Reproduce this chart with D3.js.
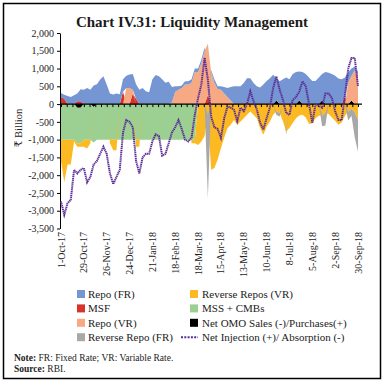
<!DOCTYPE html>
<html>
<head>
<meta charset="utf-8">
<script src="https://cdn.jsdelivr.net/npm/d3@7"></script>
<style>
  html, body { margin: 0; padding: 0; background: #fff; }
  svg text { font-family: "Liberation Serif", "DejaVu Serif", serif; fill: #222; }
</style>
</head>
<body>
<div id="chart"></div>
<script>
// one sample every 4 days, 1-Oct-17 .. 30-Sep-18
const startDate = new Date(2017, 9, 1);
const stepDays = 4;

const repoFR = [110,110,230,200,250,220,340,400,450,400,
  520,560,690,780,550,300,270,300,280,350,
  350,380,450,410,400,450,360,330,700,820,
  780,700,600,630,430,150,100,70,90,90,
  100,100,100,100,100,0,60,100,80,100,
  180,250,380,500,500,500,590,660,730,590,
  500,470,550,650,730,825,630,640,700,750,
  700,850,900,820,900,850,750,650,650,750,
  750,900,880,850,800,720,700,550,300,200,
  100,50];
const msf = [200,150,0,0,0,80,80,0,0,0,
  0,0,0,0,0,0,0,0,0,350,
  0,0,300,150,0,0,0,0,0,0,
  0,0,0,0,0,0,0,0,0,0,
  0,0,0,0,0,250,0,0,0,0,
  0,0,0,0,0,0,0,70,0,0,
  0,0,0,0,0,0,0,0,0,0,
  0,0,0,0,0,0,0,0,0,0,
  0,0,0,0,0,0,0,200,0,0,
  0,0];
const repoVR = [0,0,0,0,0,0,0,0,0,0,
  0,0,0,0,0,0,0,0,0,0,
  450,450,100,0,0,0,0,0,0,0,
  0,0,0,0,50,350,400,450,550,550,
  600,900,900,1150,1500,1450,900,600,420,400,
  300,200,100,0,0,0,0,0,0,0,
  0,0,0,0,0,0,0,0,0,0,
  0,0,0,0,0,0,0,0,0,0,
  0,0,0,0,0,0,0,0,600,700,
  950,850];
const omo = [0,0,0,0,0,-100,-100,0,0,0,
  -80,0,0,0,0,0,0,0,0,0,
  0,0,0,0,0,0,0,0,0,0,
  0,0,0,0,0,0,0,0,0,0,
  0,0,0,0,0,0,0,0,0,0,
  0,0,0,0,0,0,0,0,0,0,
  0,0,0,0,0,0,100,0,0,0,
  0,0,0,100,0,0,0,0,0,0,
  100,0,0,0,0,0,0,0,0,100,
  0,0];
const mss = [-1000,-1000,-1000,-1000,-1000,-1000,-1000,-1000,-1000,-1000,
  -1000,-1000,-1000,-1000,-1000,-1000,-1000,-1000,-1000,-1000,
  -1000,-1000,-1000,-1000,-1000,-1000,-1000,-1000,-1000,-1000,
  -1000,-1000,-1000,-1000,-1000,-1000,-1000,-1000,-1000,-1000,
  -1000,-1000,0,0,0,0,0,0,0,0,
  0,0,0,0,0,0,0,0,0,0,
  0,0,0,0,0,0,0,0,0,0,
  0,0,0,0,0,0,0,0,0,0,
  0,0,0,0,0,0,0,0,0,0,
  0,0];
const revVR = [-600,-1200,-700,-700,-50,-100,-100,-200,-250,-100,
  0,0,0,0,0,-100,-300,-300,0,0,
  0,0,0,-200,-200,0,0,0,0,0,
  0,0,0,0,0,0,0,0,0,0,
  -100,-100,-1150,-1050,-900,-300,-1850,-1800,-1560,-1240,
  -950,-680,-580,-450,-580,-490,-400,-300,-210,-300,
  -400,-670,-860,-640,-490,-300,-210,-250,-480,-770,
  -675,-535,-400,-320,-300,-380,-560,-540,-400,-330,
  -320,-250,-280,-380,-470,-580,-520,-330,-210,-130,
  -230,-440];
const revFR = [0,0,0,0,0,0,0,0,0,0,
  0,0,0,0,0,0,0,0,0,0,
  0,0,0,0,0,0,0,0,0,0,
  0,0,0,0,0,0,0,0,0,0,
  0,0,0,0,0,-2350,0,0,0,0,
  0,0,0,0,0,0,0,0,0,0,
  0,0,0,0,0,0,-100,-100,0,-100,
  0,0,0,0,0,0,0,0,0,0,
  -300,-350,0,0,0,0,0,0,-250,-200,
  -700,-900];
const netInjection = [-2740,-3115,-2790,-2690,-1850,-1950,-1850,-1800,-2200,-2050,
  -1700,-1600,-1400,-1200,-1400,-1950,-2250,-2050,-1850,-800,
  -450,-500,-650,-1600,-1950,-1500,-1400,-1400,-1050,-850,
  -900,-1450,-1400,-1100,-800,-650,-450,-700,-1000,-1050,
  -950,-300,170,550,1300,700,-350,-650,-700,-950,
  -400,-70,-100,-160,-480,-100,-200,0,360,80,
  -150,-520,-720,-400,-100,450,780,400,120,-250,
  -300,120,200,350,640,500,0,-530,0,-50,
  -100,300,300,170,-200,-450,-450,250,1000,1300,
  1300,500];

const yTicks = d3.range(-3500, 2001, 500);

const seriesKeys = ["omo", "msf", "repoVR", "repoFR", "mss", "revVR", "revFR"];
const seriesColors = {
  repoFR: "#7596d3", msf: "#d8332a", repoVR: "#f6a982", revFR: "#a8a8a8",
  revVR: "#fdb922", mss: "#9ccf92", omo: "#000000"
};
const lineColor = "#5a2d96";
const legendItems = [
  ["repoFR", "Repo (FR)"], ["msf", "MSF"], ["repoVR", "Repo (VR)"], ["revFR", "Reverse Repo (FR)"],
  ["revVR", "Reverse Repos (VR)"], ["mss", "MSS + CMBs"], ["omo", "Net OMO Sales (-)/Purchases(+)"],
  ["net", "Net Injection (+)/ Absorption (-)"]
];

const W = 385, H = 385;
const svg = d3.select("#chart").append("svg").attr("width", W).attr("height", H);
svg.append("rect").attr("width", W).attr("height", H).attr("fill", "#fff");
svg.append("rect").attr("x", 3.5).attr("y", 3.5).attr("width", 377).attr("height", 375)
  .attr("fill", "none").attr("stroke", "#000").attr("stroke-width", 1.5);

svg.append("text").attr("x", 192).attr("y", 27).attr("text-anchor", "middle")
  .style("font-size", "15px").style("font-weight", "bold").style("fill", "#1a1a1a")
  .text("Chart IV.31: Liquidity Management");

const rows = netInjection.map((v, i) => ({
  date: d3.timeDay.offset(startDate, i * stepDays),
  repoFR: repoFR[i], msf: msf[i], repoVR: repoVR[i], omo: omo[i],
  mss: mss[i], revVR: revVR[i], revFR: revFR[i], net: v
}));

const x = d3.scaleTime().domain([startDate, new Date(2018, 8, 30)]).range([61, 358]);
const y = d3.scaleLinear().domain([-3500, 2000]).range([228.5, 33]);

const stacked = d3.stack().keys(seriesKeys).offset(d3.stackOffsetDiverging)(rows);
const area = d3.area().x(d => x(d.data.date)).y0(d => y(d[0])).y1(d => y(d[1]));

svg.append("g").selectAll("path").data(stacked).join("path")
  .attr("fill", d => seriesColors[d.key]).attr("d", area);

// y axis
const fmt = d => d3.format(",")(d).replace("\u2212", "-");
const yAxis = svg.append("g").attr("transform", "translate(60,0)")
  .call(d3.axisLeft(y).tickValues(yTicks).tickFormat(fmt).tickSize(3).tickSizeOuter(0));
yAxis.select(".domain").attr("stroke", "#000");
yAxis.selectAll(".tick line").attr("stroke", "#000");
yAxis.selectAll("text").style("font-size", "10px").style("font-family", "Liberation Serif, serif").attr("fill", "#222");

svg.append("text").attr("transform", "translate(22,128) rotate(-90)").attr("text-anchor", "middle")
  .style("font-size", "10.5px").text("\u20b9 Billion");

// x axis on the zero line, weekly ticks
const weeks = d3.timeWeek.range(startDate, d3.timeDay.offset(x.domain()[1], 1));
const xAxis = svg.append("g").attr("transform", `translate(0,${y(0)})`)
  .call(d3.axisBottom(x).tickValues(weeks).tickFormat("").tickSize(3).tickSizeOuter(0));
xAxis.select(".domain").remove();
xAxis.selectAll(".tick line").attr("stroke", "#000");
svg.append("line").attr("x1", 60).attr("x2", 362).attr("y1", y(0)).attr("y2", y(0))
  .attr("stroke", "#000").attr("stroke-width", 1.2);

const labelDates = weeks.filter((d, i) => i % 4 === 0);
svg.append("g").selectAll("text").data(labelDates).join("text")
  .attr("transform", d => `translate(${x(d)},232) rotate(-90)`)
  .attr("text-anchor", "end").attr("dy", "0.35em")
  .style("font-size", "10px")
  .text(d3.timeFormat("%-d-%b-%y"));

// net injection line
svg.append("path").datum(rows)
  .attr("fill", "none").attr("stroke", lineColor).attr("stroke-width", 2)
  .attr("stroke-dasharray", "1.3,0.6")
  .attr("d", d3.line().x(d => x(d.date)).y(d => y(d.net)));

// legend
const legend = svg.append("g");
legendItems.forEach(([key, label], i) => {
  const col = Math.floor(i / 4), row = i % 4;
  const cy = 294 + row * 14.4;
  const sx = col === 0 ? 77 : 190;
  const g = legend.append("g");
  if (key === "net") {
    g.append("line").attr("x1", 181).attr("x2", 198).attr("y1", cy).attr("y2", cy)
      .attr("stroke", lineColor).attr("stroke-width", 2).attr("stroke-dasharray", "2,1.3");
  } else {
    g.append("rect").attr("x", sx).attr("y", cy - 4).attr("width", 8).attr("height", 8)
      .attr("fill", seriesColors[key]);
  }
  g.append("text").attr("x", sx + (col === 0 ? 11 : 12)).attr("y", cy).attr("dy", "0.35em")
    .style("font-size", "11px").text(label);
});

const note = svg.append("text").attr("x", 14).attr("y", 361).style("font-size", "9.5px");
note.append("tspan").style("font-weight", "bold").text("Note: ");
note.append("tspan").text("FR: Fixed Rate; VR: Variable Rate.");
const src = svg.append("text").attr("x", 14).attr("y", 372).style("font-size", "9.5px");
src.append("tspan").style("font-weight", "bold").text("Source: ");
src.append("tspan").text("RBI.");
</script>
</body>
</html>
